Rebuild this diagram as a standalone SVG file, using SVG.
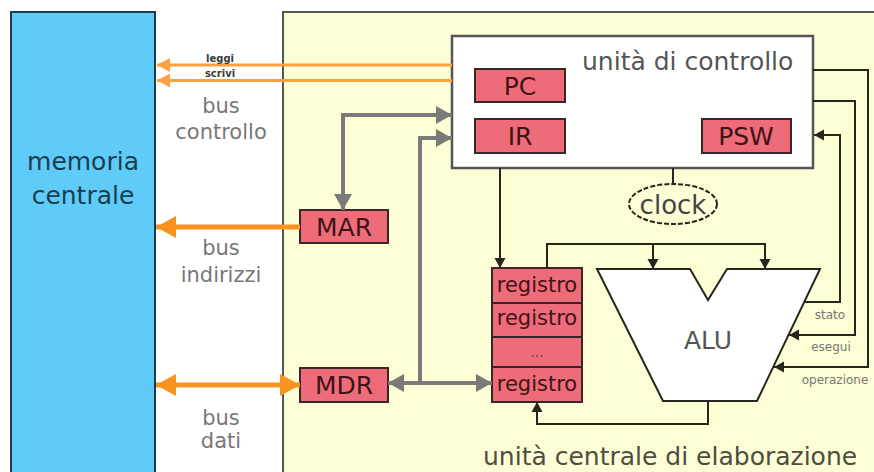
<svg xmlns="http://www.w3.org/2000/svg" width="874" height="472" viewBox="0 0 874 472">
  <style>
    text { font-family: "DejaVu Sans", "Liberation Sans", sans-serif; }
    .reg { fill: #ee6b79; stroke: #3a2626; stroke-width: 2; }
    .regtxt { font-size: 25px; fill: #3e1414; text-anchor: middle; }
    .rowtxt { font-size: 21px; fill: #3e1414; text-anchor: middle; }
    .bus { font-size: 21px; fill: #777; text-anchor: middle; }
    .sig { font-size: 12px; fill: #777; text-anchor: middle; }
    .wire { fill: none; stroke: #26261c; stroke-width: 2; }
    .gray { fill: none; stroke: #7a7a7a; stroke-width: 4; }
    .orange { fill: none; stroke: #f7931e; stroke-width: 5; }
    .orange-thin { fill: none; stroke: #f9a040; stroke-width: 3; }
  </style>
  <defs>
    <marker id="arrOrange" markerUnits="userSpaceOnUse" markerWidth="22" markerHeight="24" refX="20" refY="12" orient="auto-start-reverse">
      <path d="M0,1 L20,12 L0,23 Z" fill="#f7931e"/>
    </marker>
    <marker id="arrOrangeSmall" markerUnits="userSpaceOnUse" markerWidth="14" markerHeight="16" refX="13" refY="8" orient="auto-start-reverse">
      <path d="M0,1 L13,8 L0,15 Z" fill="#f9a040"/>
    </marker>
    <marker id="arrGray" markerUnits="userSpaceOnUse" markerWidth="18" markerHeight="20" refX="16" refY="10" orient="auto-start-reverse">
      <path d="M0,1 L16,10 L0,19 Z" fill="#7a7a7a"/>
    </marker>
    <marker id="arrBlack" markerUnits="userSpaceOnUse" markerWidth="12" markerHeight="12" refX="10" refY="6" orient="auto-start-reverse">
      <path d="M0,0.5 L10,6 L0,11.5 Z" fill="#26261c"/>
    </marker>
  </defs>

  <rect x="0" y="0" width="874" height="472" fill="#ffffff"/>

  <!-- main memory -->
  <g id="memoria">
    <rect x="11" y="12" width="144" height="480" fill="#5fcbf8" stroke="#1d3b4a" stroke-width="2"/>
    <text x="83" y="170" font-size="25" fill="#183e4e" text-anchor="middle">memoria</text>
    <text x="83" y="204" font-size="25" fill="#183e4e" text-anchor="middle">centrale</text>
  </g>

  <!-- CPU frame -->
  <g id="cpu">
    <rect x="283" y="12" width="610" height="480" fill="#fdfdd6" stroke="#555" stroke-width="2"/>
    <text x="483" y="465" font-size="25" fill="#4d4d40">unità centrale di elaborazione</text>
  </g>

  <!-- control unit -->
  <g id="unita-controllo">
    <rect x="452" y="36" width="361" height="132" fill="#ffffff" stroke="#555" stroke-width="2.5"/>
    <text x="582" y="70" font-size="25" fill="#555">unità di controllo</text>
  </g>
  <g id="pc">
    <rect class="reg" x="475" y="69" width="90" height="33"/>
    <text class="regtxt" x="520" y="95">PC</text>
  </g>
  <g id="ir">
    <rect class="reg" x="475" y="119" width="90" height="34"/>
    <text class="regtxt" x="520" y="145">IR</text>
  </g>
  <g id="psw">
    <rect class="reg" x="702" y="119" width="89" height="34"/>
    <text class="regtxt" x="746" y="145">PSW</text>
  </g>

  <g id="clock">
    <ellipse cx="673" cy="204" rx="44" ry="20" fill="#fdfdd6" stroke="#26261c" stroke-width="2" stroke-dasharray="5 2"/>
    <text x="673" y="214" font-size="26" fill="#444" text-anchor="middle">clock</text>
  </g>

  <g id="mar">
    <rect class="reg" x="300" y="210" width="88" height="33"/>
    <text class="regtxt" x="344" y="236">MAR</text>
  </g>
  <g id="mdr">
    <rect class="reg" x="300" y="368" width="88" height="34"/>
    <text class="regtxt" x="344" y="394">MDR</text>
  </g>

  <!-- register file -->
  <g id="registri">
    <rect class="reg" x="492" y="268" width="90" height="134"/>
    <line x1="492" y1="303" x2="582" y2="303" stroke="#3a2626" stroke-width="2"/>
    <line x1="492" y1="337" x2="582" y2="337" stroke="#3a2626" stroke-width="2"/>
    <line x1="492" y1="367" x2="582" y2="367" stroke="#3a2626" stroke-width="2"/>
    <text class="rowtxt" x="537" y="292">registro</text>
    <text class="rowtxt" x="537" y="325">registro</text>
    <text x="537" y="357" font-size="14" fill="#7a3a3a" text-anchor="middle">...</text>
    <text class="rowtxt" x="537" y="391">registro</text>
  </g>

  <g id="alu">
    <polygon points="597,269 690,269 708,300 727,269 820,269 757,401 663,401" fill="#ffffff" stroke="#26261c" stroke-width="2"/>
    <text x="708" y="349" font-size="25" fill="#555" text-anchor="middle">ALU</text>
  </g>

  <!-- connectors -->
  <g id="connettori">
    <!-- control bus -->
    <path class="orange-thin" d="M452,65 H157" marker-end="url(#arrOrangeSmall)"/>
    <path class="orange-thin" d="M452,80.5 H157" marker-end="url(#arrOrangeSmall)"/>
    <!-- address bus -->
    <path class="orange" d="M300,227 H156" marker-end="url(#arrOrange)"/>
    <!-- data bus -->
    <path class="orange" d="M156,385 H300" marker-start="url(#arrOrange)" marker-end="url(#arrOrange)"/>

    <!-- internal gray paths -->
    <path class="gray" d="M343,210 V115 H452" marker-start="url(#arrGray)" marker-end="url(#arrGray)"/>
    <path class="gray" d="M420,383 V138 H452" marker-end="url(#arrGray)"/>
    <path class="gray" d="M388,383 H492" marker-start="url(#arrGray)" marker-end="url(#arrGray)"/>

    <!-- control unit to registers and clock -->
    <path class="wire" d="M500,168 V268" marker-end="url(#arrBlack)"/>
    <path class="wire" d="M673,168 V184"/>

    <!-- registers to ALU inputs -->
    <path class="wire" d="M547,268 V244 H765 V269" marker-end="url(#arrBlack)"/>
    <path class="wire" d="M653,244 V269" marker-end="url(#arrBlack)"/>
    <!-- ALU result back to registers -->
    <path class="wire" d="M708,401 V424 H537 V402" marker-end="url(#arrBlack)"/>

    <!-- control signals -->
    <path class="wire" d="M813,70 H868 V367 H774" marker-end="url(#arrBlack)"/>
    <path class="wire" d="M813,101 H855 V335 H789" marker-end="url(#arrBlack)"/>
    <path class="wire" d="M805,302 H840 V135 H814" marker-end="url(#arrBlack)"/>
  </g>

  <!-- bus labels -->
  <g id="etichette">
    <text x="220" y="62" font-size="10" font-weight="bold" fill="#3a3a3a" text-anchor="middle">leggi</text>
    <text x="220" y="77" font-size="10" font-weight="bold" fill="#3a3a3a" text-anchor="middle">scrivi</text>
    <text class="bus" x="221" y="113">bus</text>
    <text class="bus" x="221" y="139">controllo</text>
    <text class="bus" x="221" y="255">bus</text>
    <text class="bus" x="221" y="282">indirizzi</text>
    <text class="bus" x="221" y="425">bus</text>
    <text class="bus" x="221" y="448">dati</text>
    <text class="sig" x="830" y="319">stato</text>
    <text class="sig" x="831" y="351">esegui</text>
    <text class="sig" x="835" y="384">operazione</text>
  </g>
</svg>
